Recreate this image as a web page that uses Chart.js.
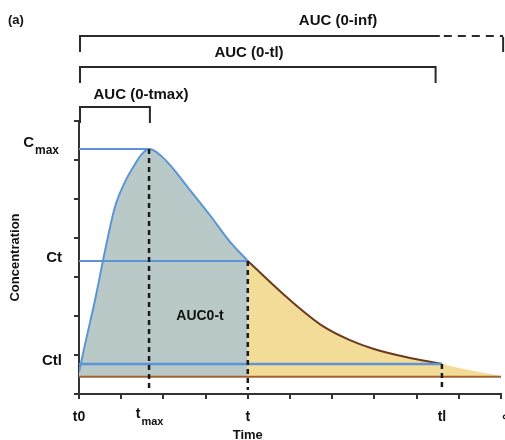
<!DOCTYPE html>
<html>
<head>
<meta charset="utf-8">
<script src="https://cdn.jsdelivr.net/npm/chart.js@4"></script>
<style>
  html, body { margin: 0; padding: 0; background: #fff; }
  #wrap { width: 505px; height: 440px; position: relative; }
</style>
</head>
<body>
<div id="wrap"><canvas id="aucChart"></canvas></div>
<script>
// concentration-time curve (time units on x, concentration units on y)
const riseTime = [0, 0.14, 0.38, 0.62, 0.85, 1.09, 1.33, 1.49, 1.66];
const riseConc = [0.56, 1.26, 2.41, 3.69, 4.79, 5.44, 5.90, 6.15, 6.28];
const fallTime = [1.66, 1.80, 1.97, 2.16, 2.63, 3.10, 3.58, 4.0];
const fallConc = [6.28, 6.23, 6.08, 5.87, 5.23, 4.59, 3.90, 3.41];
const tailTime = [4.0, 5.0, 5.78, 6.42, 6.97, 7.77, 8.6];
const tailConc = [3.41, 2.41, 1.74, 1.38, 1.16, 0.94, 0.77];
const extraTime = [8.6, 9.3, 10];
const extraConc = [0.77, 0.6, 0.46];

// key points
const keyTimes = { t0: 0, tmax: 1.66, t: 4, tl: 8.6, inf: 10 };
const keyConc = { cmax: 6.28, ct: 3.41, ctl: 0.77, base: 0.44 };

// tick labels: [main text, subscript]
const xTickLabels = [['t0', ''], ['t', 'max'], ['t', ''], ['tl', ''], ['\u221E', '']];
const xTickValues = [keyTimes.t0, keyTimes.tmax, keyTimes.t, keyTimes.tl, 10.15];
const yTickLabels = [['C', 'max'], ['Ct', ''], ['Ctl', '']];
const yTickValues = [keyConc.cmax, keyConc.ct, keyConc.ctl];

// AUC brackets: label, start time, end time, solid end time
const bracketLabels = ['AUC (0-inf)', 'AUC (0-tl)', 'AUC (0-tmax)'];
const bracketStarts = [0, 0, 0];
const bracketEnds = [10.05, 8.45, 1.68];
const bracketSolidEnds = [8.55, 8.45, 1.68];

const pts = (xs, ys) => xs.map((x, i) => ({ x: x, y: ys[i] }));
const curve = pts(riseTime, riseConc).concat(pts(fallTime, fallConc).slice(1));

const FONT = '"Liberation Sans", Arial, sans-serif';
const BLUE = '#5b95d6';
const BROWN = '#6b3a1c';

const vline = (t, top) => ({
    data: [{ x: t, y: top }, { x: t, y: 0.1 }],
    borderColor: '#1a1a1a', borderWidth: 2.5, borderDash: [5, 4],
    pointRadius: 0, fill: false, order: 1
});
const hline = (c, end, color, w) => ({
    data: [{ x: 0, y: c }, { x: end, y: c }],
    borderColor: color, borderWidth: w, pointRadius: 0, fill: false, order: 2
});

const drawLabel = (ctx, parts, x, y, size, align) => {
    ctx.font = 'bold ' + size + 'px ' + FONT;
    const mainW = ctx.measureText(parts[0]).width;
    ctx.font = 'bold ' + Math.round(size * 0.8) + 'px ' + FONT;
    const subW = parts[1] ? ctx.measureText(parts[1]).width : 0;
    let left = x - (mainW + subW) / 2;
    if (align === 'right') left = x - mainW - subW;
    ctx.textAlign = 'left';
    ctx.textBaseline = 'middle';
    ctx.font = 'bold ' + size + 'px ' + FONT;
    ctx.fillText(parts[0], left, parts[1] ? y - 3 : y);
    if (parts[1]) {
        ctx.font = 'bold ' + Math.round(size * 0.8) + 'px ' + FONT;
        ctx.fillText(parts[1], left + mainW + 1, y + 5);
    }
};

const annotations = {
    id: 'annotations',
    afterDraw(chart) {
        const ctx = chart.ctx;
        const xs = chart.scales.x;
        const ys = chart.scales.y;
        ctx.save();
        ctx.fillStyle = '#111';

        // axis tick labels
        xTickLabels.forEach((lab, i) => {
            drawLabel(ctx, lab, xs.getPixelForValue(xTickValues[i]), 417, 14, 'center');
        });
        yTickLabels.forEach((lab, i) => {
            const right = lab[1] ? 58 : 62;
            drawLabel(ctx, lab, right, ys.getPixelForValue(yTickValues[i]) - 3, 15, 'right');
        });

        // axis titles
        ctx.font = 'bold 13px ' + FONT;
        ctx.textAlign = 'center';
        ctx.textBaseline = 'middle';
        ctx.fillText('Time', xs.getPixelForValue(keyTimes.t), 435);
        ctx.save();
        ctx.translate(15, (chart.chartArea.top + chart.chartArea.bottom) / 2);
        ctx.rotate(-Math.PI / 2);
        ctx.font = 'bold 13px ' + FONT;
        ctx.fillText('Concentration', 0, 0);
        ctx.restore();

        // AUC0-t region label
        ctx.font = 'bold 14px ' + FONT;
        ctx.fillText('AUC0-t', 200, 316);

        // panel tag
        ctx.textAlign = 'left';
        ctx.font = 'bold 13px ' + FONT;
        ctx.fillText('(a)', 8, 20);

        // brackets
        const levels = [36, 67, 107];
        const labelY = [21, 53, 95];
        const labelX = [338, 249, 141];
        ctx.strokeStyle = '#2a2a2a';
        ctx.lineWidth = 2;
        bracketLabels.forEach((lab, i) => {
            const x0 = xs.getPixelForValue(bracketStarts[i]) + 1;
            const x1 = xs.getPixelForValue(bracketEnds[i]);
            const xs1 = xs.getPixelForValue(bracketSolidEnds[i]);
            const y = levels[i];
            ctx.setLineDash([]);
            ctx.beginPath();
            ctx.moveTo(x0, y + 16);
            ctx.lineTo(x0, y);
            ctx.lineTo(xs1, y);
            if (xs1 >= x1) ctx.lineTo(x1, y + 16);
            ctx.stroke();
            if (xs1 < x1) {
                ctx.setLineDash([8, 6]);
                ctx.beginPath();
                ctx.moveTo(xs1 + 4, y);
                ctx.lineTo(x1, y);
                ctx.stroke();
                ctx.setLineDash([]);
                ctx.beginPath();
                ctx.moveTo(x1, y + 1);
                ctx.lineTo(x1, y + 16);
                ctx.stroke();
            }
            ctx.font = 'bold 15px ' + FONT;
            ctx.textAlign = 'center';
            ctx.fillText(lab, labelX[i], labelY[i]);
        });
        ctx.restore();
    }
};

new Chart(document.getElementById('aucChart'), {
    type: 'line',
    data: {
        datasets: [
            {
                data: curve,
                borderColor: BLUE, borderWidth: 2,
                backgroundColor: '#b9c9c7',
                fill: { value: keyConc.base }, cubicInterpolationMode: 'monotone',
                pointRadius: 0, order: 5
            },
            {
                data: pts(tailTime, tailConc),
                borderColor: BROWN, borderWidth: 2,
                backgroundColor: '#f2dc98',
                fill: { value: keyConc.base }, cubicInterpolationMode: 'monotone',
                pointRadius: 0, order: 5
            },
            {
                data: pts(extraTime, extraConc),
                borderColor: 'rgba(0,0,0,0)', borderWidth: 0,
                backgroundColor: '#f2dc98',
                fill: { value: keyConc.base }, cubicInterpolationMode: 'monotone',
                pointRadius: 0, order: 6
            },
            hline(keyConc.cmax, keyTimes.tmax, BLUE, 2),
            hline(keyConc.ct, keyTimes.t, BLUE, 2),
            hline(keyConc.ctl, keyTimes.tl, BLUE, 2.5),
            hline(keyConc.base, 10, '#a4612f', 2),
            vline(keyTimes.tmax, keyConc.cmax),
            vline(keyTimes.t, keyConc.ct),
            vline(keyTimes.tl, keyConc.ctl)
        ]
    },
    options: {
        responsive: true,
        maintainAspectRatio: false,
        animation: false,
        layout: { padding: { left: 74, top: 121, right: 4, bottom: 41 } },
        plugins: { legend: { display: false }, tooltip: { enabled: false } },
        scales: {
            x: {
                type: 'linear', min: 0, max: 10,
                ticks: { display: false, stepSize: 1 },
                grid: { drawOnChartArea: false, drawTicks: true, tickLength: 5, color: '#333', lineWidth: 2 },
                border: { color: '#333', width: 2 }
            },
            y: {
                type: 'linear', min: 0, max: 7,
                ticks: { display: false, stepSize: 1 },
                grid: { drawOnChartArea: false, drawTicks: true, tickLength: 5, color: '#333', lineWidth: 2 },
                border: { color: '#333', width: 2 }
            }
        }
    },
    plugins: [annotations]
});
</script>
</body>
</html>
